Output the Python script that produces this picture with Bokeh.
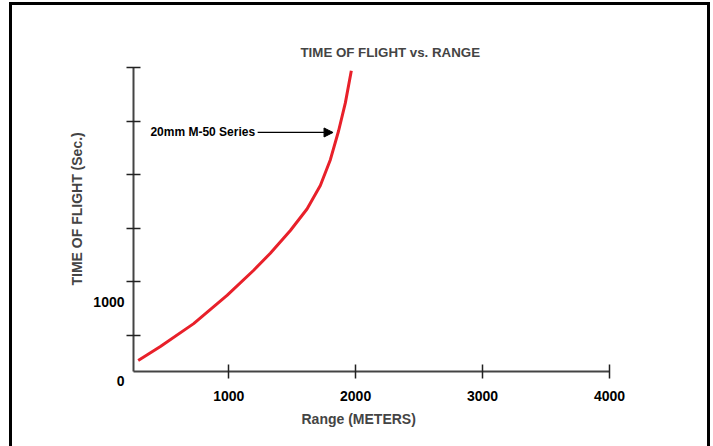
from bokeh.plotting import figure
from bokeh.models import Arrow, NormalHead, FixedTicker, Range1d, Title, Label
from bokeh.embed import file_html
from bokeh.resources import INLINE

# data
range_m = [287, 462, 724, 987, 1197, 1328, 1486, 1617, 1722, 1801, 1866, 1919, 1966]
tof_s = [0.267, 0.397, 0.611, 0.874, 1.109, 1.267, 1.480, 1.680, 1.900, 2.140, 2.410, 2.670, 2.969]
x_ticks = [1000, 2000, 3000, 4000]
y_ticks = [0.5, 1.0, 1.5, 2.0, 2.5, 3.0]
y_label_values = [0.1647, 0.8167]
y_label_texts = ["\n0", "1000"]
title_text = "TIME OF FLIGHT vs. RANGE"
x_title = "Range (METERS)"
y_title = "TIME OF FLIGHT (Sec.)"
series_name = "20mm M-50 Series"

FONT = "Liberation Sans"

p = figure(width=713, height=446, output_backend="svg", toolbar_location=None,
           x_range=Range1d(250, 4000), y_range=Range1d(0.1646, 3.0),
           min_border_left=133, min_border_right=104, min_border_top=67,
           min_border_bottom=75)
p.grid.visible = False
p.outline_line_color = None
p.background_fill_color = None
p.border_fill_color = None
p.styles = {
    "background": ("linear-gradient(#000,#000) 9px 2px / 3px 600px no-repeat, "
                   "linear-gradient(#000,#000) 9px 2px / 701px 3px no-repeat, "
                   "linear-gradient(#000,#000) 707px 2px / 3px 600px no-repeat, #ffffff"),
}

p.line(range_m, tof_s, line_color="#e8202a", line_width=3)

xa = p.xaxis[0]
ya = p.yaxis[0]
for ax in (xa, ya):
    ax.axis_line_color = "#444444"
    ax.axis_line_width = 2
    ax.major_label_text_font = FONT
    ax.major_label_text_font_style = "bold"
    ax.major_label_text_font_size = "14px"
    ax.major_label_text_color = "black"

xa.ticker = FixedTicker(ticks=x_ticks)
xa.major_tick_line_color = "#222222"
xa.major_tick_line_width = 1.5
xa.major_tick_in = 7
xa.major_tick_out = 7
xa.minor_tick_line_color = None
xa.major_label_standoff = 12

ya.ticker = FixedTicker(ticks=y_label_values, minor_ticks=y_ticks)
ya.major_label_overrides = dict(zip(y_label_values, y_label_texts))
ya.major_tick_line_color = None
ya.major_tick_in = 0
ya.major_tick_out = 7
ya.minor_tick_line_color = "#222222"
ya.minor_tick_line_width = 1.5
ya.minor_tick_in = 7
ya.minor_tick_out = 7
ya.major_label_standoff = 2

p.title.text = title_text
p.title.align = "left"
p.title.offset = 167
p.title.standoff = 15
p.title.text_font = FONT
p.title.text_font_style = "bold"
p.title.text_font_size = "13.3px"

p.add_layout(Title(text=y_title, align="left", offset=86, standoff=12,
                   text_font=FONT, text_font_style="bold", text_font_size="14px"), "left")
p.add_layout(Title(text=x_title, align="left", offset=168, standoff=10,
                   text_font=FONT, text_font_style="bold", text_font_size="14px"), "below")

p.add_layout(Label(x=383, y=2.396, text=series_name, text_font=FONT,
                   text_font_style="bold", text_font_size="12px", text_align="left",
                   text_baseline="middle", text_color="black"))

p.add_layout(Arrow(end=NormalHead(size=9, fill_color="black", line_color="black"),
                   x_start=1228, y_start=2.394, x_end=1822, y_end=2.394,
                   line_color="black", line_width=1.2))

open("out.html", "w").write(file_html(p, INLINE))
